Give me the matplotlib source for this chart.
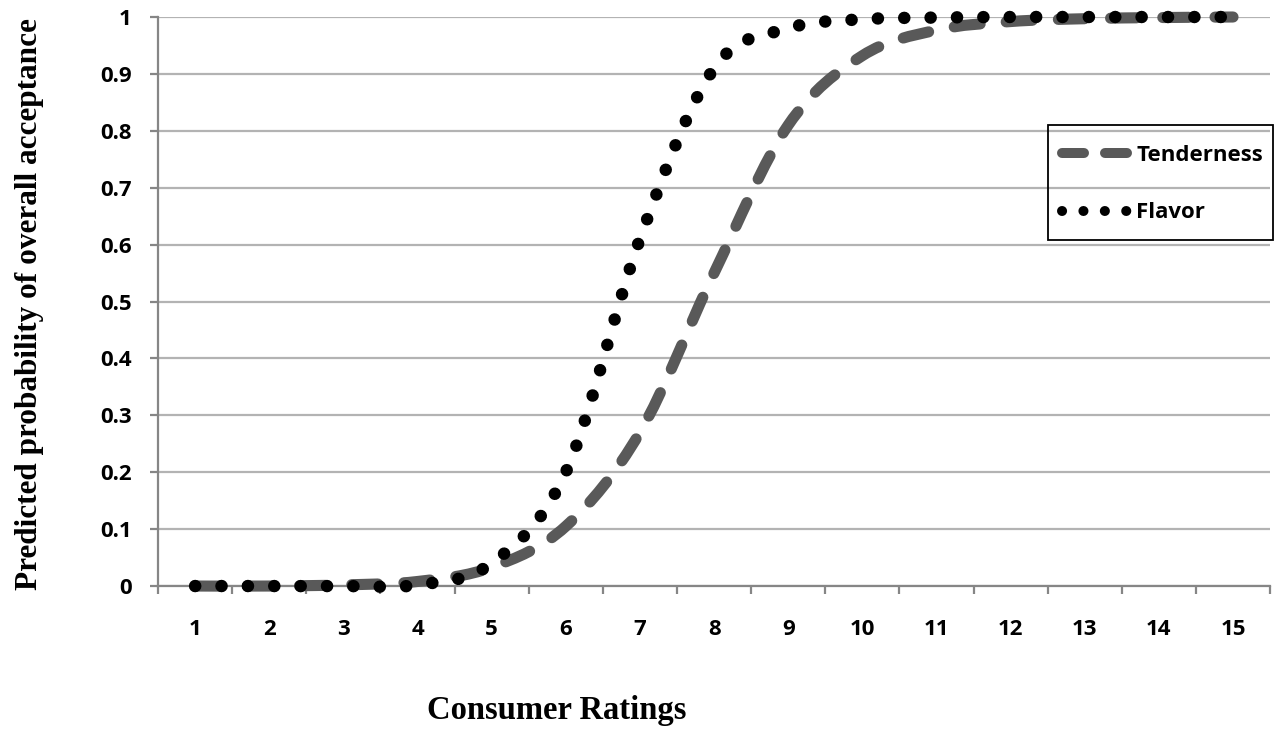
import numpy as np
import matplotlib
matplotlib.use("Agg")
import matplotlib.pyplot as plt
from matplotlib.path import Path
from matplotlib.patches import PathPatch, Rectangle
from matplotlib.lines import Line2D

# ── data ──────────────────────────────────────────────────────────────────────
ratings    = [1, 2, 3, 4, 5, 6, 7, 8, 9, 10, 11, 12, 13, 14, 15]
tenderness = [0.0, 0.0, 0.002, 0.008, 0.033, 0.105, 0.27, 0.55, 0.81,
              0.932, 0.977, 0.992, 0.997, 0.999, 1.0]
flavor     = [0.0, 0.0, 0.0, 0.002, 0.04, 0.20, 0.61, 0.91, 0.98,
              0.996, 0.999, 1.0, 1.0, 1.0, 1.0]
y_ticks    = [0, 0.1, 0.2, 0.3, 0.4, 0.5, 0.6, 0.7, 0.8, 0.9, 1]
y_labels   = ["0", "0.1", "0.2", "0.3", "0.4", "0.5", "0.6", "0.7", "0.8", "0.9", "1"]

TICK_FONT  = "Open Sans"
TITLE_FONT = "Liberation Serif"
GRID_C     = "#b3b3b3"
AXIS_C     = "#868686"
FS         = 16
W, H       = 1288, 733


def smooth_path(xs, ys):
    """Excel-style smoothed line: cubic Bezier through each point."""
    p = np.column_stack([xs, ys]).astype(float)
    n = len(p)
    verts = [p[0]]
    codes = [Path.MOVETO]
    for i in range(n - 1):
        p_prev = p[i - 1] if i > 0 else p[i]
        p_next = p[i + 2] if i + 2 < n else p[i + 1]
        c1 = p[i] + (p[i + 1] - p_prev) / 6.0
        c2 = p[i + 1] - (p_next - p[i]) / 6.0
        verts += [c1, c2, p[i + 1]]
        codes += [Path.CURVE4] * 3
    return Path(verts, codes)


fig = plt.figure(figsize=(W / 100, H / 100), dpi=100)
ax = fig.add_axes([0.1227, 0.2005, 0.8634, 0.7763])

# gridlines
ax.set_ylim(0, 1)
ax.set_xlim(0.5, 15.5)
ax.set_yticks(y_ticks)
ax.set_yticklabels(y_labels, fontfamily=TICK_FONT, fontweight="bold", fontsize=FS)
ax.yaxis.grid(True, color=GRID_C, linewidth=1.6)
ax.set_axisbelow(True)

# category axis: ticks between categories, labels on centers
ax.set_xticks(np.arange(0.5, 16, 1.0))
ax.set_xticklabels([])
ax.set_xticks(ratings, minor=True)
ax.set_xticklabels([str(r) for r in ratings], minor=True,
                   fontfamily=TICK_FONT, fontweight="bold", fontsize=FS)
ax.tick_params(axis="x", which="major", direction="out", length=6,
               width=1.6, color=AXIS_C)
ax.tick_params(axis="x", which="minor", length=0, pad=24)
ax.tick_params(axis="y", direction="out", length=6, width=1.6,
               color=AXIS_C, pad=13)

for side in ["top", "right"]:
    ax.spines[side].set_visible(False)
for side in ["left", "bottom"]:
    ax.spines[side].set_color(AXIS_C)
    ax.spines[side].set_linewidth(1.6)

# series
tend_style = dict(color="#595959", linewidth=8.0, dash=(2.35, 2.35))
flav_style = dict(color="black", linewidth=9.0, dash=(0.01, 2.1))

for vals, st in [(tenderness, tend_style), (flavor, flav_style)]:
    patch = PathPatch(smooth_path(ratings, vals), fill=False,
                      edgecolor=st["color"], linewidth=st["linewidth"],
                      linestyle=(0, st["dash"]), capstyle="round",
                      joinstyle="round", clip_on=False, zorder=3)
    ax.add_patch(patch)

# legend: entries without frame, box drawn separately
handles = [
    Line2D([], [], color=tend_style["color"], linewidth=7.2,
           linestyle=(0, (2.2, 2.1)), dash_capstyle="round"),
    Line2D([], [], color=flav_style["color"], linewidth=7.2,
           linestyle=(0, (0.01, 2.13)), dash_capstyle="round"),
]
ax.legend(handles, ["Tenderness", "Flavor"],
          loc="upper left", bbox_to_anchor=(1062 / W, 1 - 145 / H),
          bbox_transform=fig.transFigure,
          prop=dict(family=TICK_FONT, weight="bold", size=FS),
          handlelength=2.95, handletextpad=0.4, labelspacing=1.64,
          borderpad=0, borderaxespad=0, frameon=False)
fig.add_artist(Rectangle((1048 / W, 1 - 240 / H), 225 / W, 115 / H,
                         transform=fig.transFigure, fill=True,
                         facecolor="none", edgecolor="black", linewidth=1.3))

# axis titles
fig.text(30 / W, 0.585, "Predicted probability of overall acceptance",
         rotation=90, ha="center", va="center",
         fontfamily=TITLE_FONT, fontweight="bold", fontsize=22.5)
fig.text(557 / W, 1 - 710 / H, "Consumer Ratings",
         ha="center", va="center",
         fontfamily=TITLE_FONT, fontweight="bold", fontsize=23.5)

fig.savefig("out.png", dpi=100)
